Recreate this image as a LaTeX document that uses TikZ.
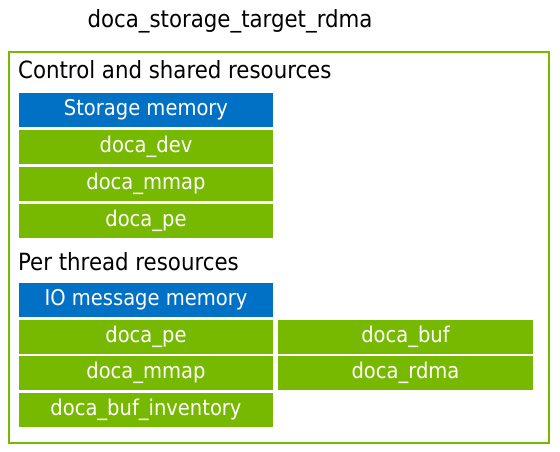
\documentclass[tikz,border=0pt]{standalone}
\usepackage{fontspec}
\setmainfont{DejaVu Sans Condensed}
\definecolor{nvgreen}{HTML}{76B900}
\definecolor{nvblue}{HTML}{0071C5}
\begin{document}
\begin{tikzpicture}[x=1pt,y=-1pt,
  box/.style={fill=nvgreen,text=white,inner sep=0pt,font=\fontsize{21.7}{26}\selectfont},
  memo/.style={box,fill=nvblue},
  head/.style={inner sep=0pt,font=\fontsize{23.7}{28}\selectfont}]
\useasboundingbox (0,0) rectangle (560,452);
\node[head,anchor=base] (title) at (230,28) {doca\_storage\_target\_rdma};
\draw[nvgreen,line width=2pt] (8.5,52) rectangle (548.5,443);
\node[head,anchor=base west] (ctrl) at (18,78) {Control and shared resources};
\node[head,anchor=base west] (per) at (18,270) {Per thread resources};
% control column
\path[memo] (19,93) rectangle (273,127) node[midway,text=white] (smem) {Storage memory};
\path[box] (19,130) rectangle (273,164) node[midway,text=white] (cdev) {doca\_dev};
\path[box] (19,167) rectangle (273,201) node[midway,text=white] (cmmap) {doca\_mmap};
\path[box] (19,204) rectangle (273,238) node[midway,text=white] (cpe) {doca\_pe};
% per thread
\path[memo] (19,283) rectangle (273,317) node[midway,text=white] (iomem) {IO message memory};
\path[box] (19,320) rectangle (273,354) node[midway,text=white] (tpe) {doca\_pe};
\path[box] (19,356) rectangle (273,390) node[midway,text=white] (tmmap) {doca\_mmap};
\path[box] (19,393) rectangle (273,427) node[midway,text=white] (tinv) {doca\_buf\_inventory};
\path[box] (278,320) rectangle (533,354) node[midway,text=white] (tbuf) {doca\_buf};
\path[box] (278,356) rectangle (533,390) node[midway,text=white] (trdma) {doca\_rdma};
\end{tikzpicture}
\end{document}
